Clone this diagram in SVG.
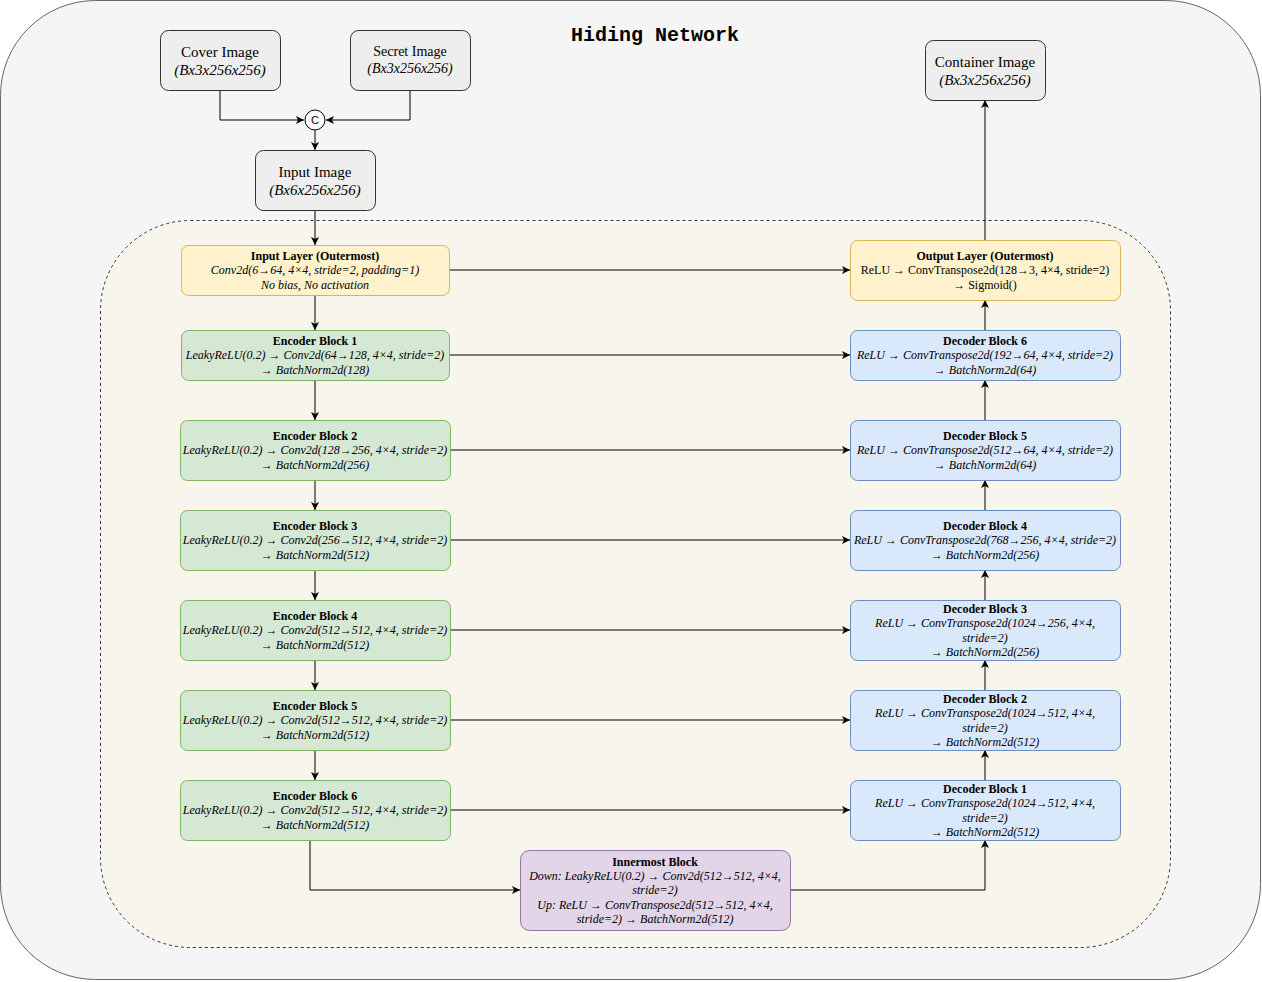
<svg xmlns="http://www.w3.org/2000/svg" width="1262" height="982" viewBox="0 0 1262 982">
<style>
.t{font-family:"Liberation Serif","DejaVu Serif",serif;font-size:12px;fill:#000;text-anchor:middle}
.b{font-weight:bold}
.i{font-style:italic}
.lg{font-size:15px}
.img{fill:#eeeeee;stroke:#333;stroke-width:1}
.yel{fill:#fff2cc;stroke:#d6b656;stroke-width:1}
.grn{fill:#d5e8d4;stroke:#82b366;stroke-width:1}
.blu{fill:#dae8fc;stroke:#6c8ebf;stroke-width:1}
.pur{fill:#e1d5e7;stroke:#9673a6;stroke-width:1}
.c{fill:none;stroke:#000;stroke-width:1;marker-end:url(#ah)}
</style>
<defs>
<marker id="ah" markerWidth="10" markerHeight="10" refX="8" refY="4" orient="auto" markerUnits="userSpaceOnUse">
<path d="M0,0 L8,4 L0,8 L2,4 z" fill="#000"/>
</marker>
</defs>
<rect x="0.5" y="0.5" width="1260" height="979" rx="95" ry="95" fill="#f5f5f5" stroke="#666"/>
<text x="655" y="41" style="font-family:'Liberation Mono','DejaVu Sans Mono',monospace;font-size:20px;font-weight:bold;text-anchor:middle">Hiding Network</text>
<rect x="100.5" y="220.5" width="1070" height="727" rx="90" ry="90" fill="#f8f5ec" stroke="#333" stroke-dasharray="3 3"/>

<g id="connectors">
<polyline class="c" points="220,90 220,120 304,120"/>
<polyline class="c" points="410,90 410,120 326,120"/>
<polyline class="c" points="315,130 315,150"/>
<polyline class="c" points="315,210 315,245"/>
<polyline class="c" points="315,295 315,330"/>
<polyline class="c" points="315,380 315,420"/>
<polyline class="c" points="315,480 315,510"/>
<polyline class="c" points="315,570 315,600"/>
<polyline class="c" points="315,660 315,690"/>
<polyline class="c" points="315,750 315,780"/>
<polyline class="c" points="310,840 310,890 520,890"/>
<polyline class="c" points="790,890 985,890 985,840"/>
<polyline class="c" points="985,780 985,750"/>
<polyline class="c" points="985,690 985,660"/>
<polyline class="c" points="985,600 985,570"/>
<polyline class="c" points="985,510 985,480"/>
<polyline class="c" points="985,420 985,380"/>
<polyline class="c" points="985,330 985,300"/>
<polyline class="c" points="985,240 985,100"/>
<polyline class="c" points="449,270 850,270"/>
<polyline class="c" points="449,355 850,355"/>
<polyline class="c" points="450,450 850,450"/>
<polyline class="c" points="450,540 850,540"/>
<polyline class="c" points="450,630 850,630"/>
<polyline class="c" points="450,720 850,720"/>
<polyline class="c" points="450,810 850,810"/>
</g>

<g id="cover">
<rect class="img" x="160.5" y="30.5" width="120" height="60" rx="8"/>
<text class="t lg" x="220" y="57">Cover Image</text>
<text class="t lg i" x="220" y="75">(Bx3x256x256)</text>
</g>
<g id="secret">
<rect class="img" x="350.5" y="30.5" width="120" height="60" rx="8"/>
<text class="t" x="410" y="56" style="font-size:14px">Secret Image</text>
<text class="t i" x="410" y="73" style="font-size:14px">(Bx3x256x256)</text>
</g>
<g id="concat">
<circle cx="315" cy="120" r="10" fill="#fff" stroke="#000"/>
<text x="315" y="124" style="font-family:'Liberation Sans',Arial,sans-serif;font-size:11px;text-anchor:middle">C</text>
</g>
<g id="input-image">
<rect class="img" x="255.5" y="150.5" width="120" height="60" rx="8"/>
<text class="t lg" x="315" y="177">Input Image</text>
<text class="t lg i" x="315" y="195">(Bx6x256x256)</text>
</g>
<g id="container">
<rect class="img" x="925.5" y="40.5" width="120" height="60" rx="8"/>
<text class="t lg" x="985" y="67">Container Image</text>
<text class="t lg i" x="985" y="85">(Bx3x256x256)</text>
</g>

<g id="input-layer">
<rect class="yel" x="181.5" y="245.5" width="268" height="50" rx="7"/>
<text class="t b" x="315" y="260">Input Layer (Outermost)</text>
<text class="t i" x="315" y="274">Conv2d(6→64, 4×4, stride=2, padding=1)</text>
<text class="t i" x="315" y="289">No bias, No activation</text>
</g>
<g id="enc1">
<rect class="grn" x="181.5" y="330.5" width="268" height="50" rx="7"/>
<text class="t b" x="315" y="345">Encoder Block 1</text>
<text class="t i" x="315" y="359">LeakyReLU(0.2) → Conv2d(64→128, 4×4, stride=2)</text>
<text class="t i" x="315" y="374">→ BatchNorm2d(128)</text>
</g>
<g id="enc2">
<rect class="grn" x="180.5" y="420.5" width="270" height="60" rx="7"/>
<text class="t b" x="315" y="440">Encoder Block 2</text>
<text class="t i" x="315" y="454">LeakyReLU(0.2) → Conv2d(128→256, 4×4, stride=2)</text>
<text class="t i" x="315" y="469">→ BatchNorm2d(256)</text>
</g>
<g id="enc3">
<rect class="grn" x="180.5" y="510.5" width="270" height="60" rx="7"/>
<text class="t b" x="315" y="530">Encoder Block 3</text>
<text class="t i" x="315" y="544">LeakyReLU(0.2) → Conv2d(256→512, 4×4, stride=2)</text>
<text class="t i" x="315" y="559">→ BatchNorm2d(512)</text>
</g>
<g id="enc4">
<rect class="grn" x="180.5" y="600.5" width="270" height="60" rx="7"/>
<text class="t b" x="315" y="620">Encoder Block 4</text>
<text class="t i" x="315" y="634">LeakyReLU(0.2) → Conv2d(512→512, 4×4, stride=2)</text>
<text class="t i" x="315" y="649">→ BatchNorm2d(512)</text>
</g>
<g id="enc5">
<rect class="grn" x="180.5" y="690.5" width="270" height="60" rx="7"/>
<text class="t b" x="315" y="710">Encoder Block 5</text>
<text class="t i" x="315" y="724">LeakyReLU(0.2) → Conv2d(512→512, 4×4, stride=2)</text>
<text class="t i" x="315" y="739">→ BatchNorm2d(512)</text>
</g>
<g id="enc6">
<rect class="grn" x="180.5" y="780.5" width="270" height="60" rx="7"/>
<text class="t b" x="315" y="800">Encoder Block 6</text>
<text class="t i" x="315" y="814">LeakyReLU(0.2) → Conv2d(512→512, 4×4, stride=2)</text>
<text class="t i" x="315" y="829">→ BatchNorm2d(512)</text>
</g>

<g id="output-layer">
<rect class="yel" x="850.5" y="240.5" width="270" height="60" rx="7"/>
<text class="t b" x="985" y="260">Output Layer (Outermost)</text>
<text class="t" x="985" y="274">ReLU → ConvTranspose2d(128→3, 4×4, stride=2)</text>
<text class="t" x="985" y="289">→ Sigmoid()</text>
</g>
<g id="dec6">
<rect class="blu" x="850.5" y="330.5" width="270" height="50" rx="7"/>
<text class="t b" x="985" y="345">Decoder Block 6</text>
<text class="t i" x="985" y="359">ReLU → ConvTranspose2d(192→64, 4×4, stride=2)</text>
<text class="t i" x="985" y="374">→ BatchNorm2d(64)</text>
</g>
<g id="dec5">
<rect class="blu" x="850.5" y="420.5" width="270" height="60" rx="7"/>
<text class="t b" x="985" y="440">Decoder Block 5</text>
<text class="t i" x="985" y="454">ReLU → ConvTranspose2d(512→64, 4×4, stride=2)</text>
<text class="t i" x="985" y="469">→ BatchNorm2d(64)</text>
</g>
<g id="dec4">
<rect class="blu" x="850.5" y="510.5" width="270" height="60" rx="7"/>
<text class="t b" x="985" y="530">Decoder Block 4</text>
<text class="t i" x="985" y="544">ReLU → ConvTranspose2d(768→256, 4×4, stride=2)</text>
<text class="t i" x="985" y="559">→ BatchNorm2d(256)</text>
</g>
<g id="dec3">
<rect class="blu" x="850.5" y="600.5" width="270" height="60" rx="7"/>
<text class="t b" x="985" y="613">Decoder Block 3</text>
<text class="t i" x="985" y="627">ReLU → ConvTranspose2d(1024→256, 4×4,</text>
<text class="t i" x="985" y="642">stride=2)</text>
<text class="t i" x="985" y="656">→ BatchNorm2d(256)</text>
</g>
<g id="dec2">
<rect class="blu" x="850.5" y="690.5" width="270" height="60" rx="7"/>
<text class="t b" x="985" y="703">Decoder Block 2</text>
<text class="t i" x="985" y="717">ReLU → ConvTranspose2d(1024→512, 4×4,</text>
<text class="t i" x="985" y="732">stride=2)</text>
<text class="t i" x="985" y="746">→ BatchNorm2d(512)</text>
</g>
<g id="dec1">
<rect class="blu" x="850.5" y="780.5" width="270" height="60" rx="7"/>
<text class="t b" x="985" y="793">Decoder Block 1</text>
<text class="t i" x="985" y="807">ReLU → ConvTranspose2d(1024→512, 4×4,</text>
<text class="t i" x="985" y="822">stride=2)</text>
<text class="t i" x="985" y="836">→ BatchNorm2d(512)</text>
</g>

<g id="innermost">
<rect class="pur" x="520.5" y="850.5" width="270" height="80" rx="9"/>
<text class="t b" x="655" y="866">Innermost Block</text>
<text class="t i" x="655" y="880">Down: LeakyReLU(0.2) → Conv2d(512→512, 4×4,</text>
<text class="t i" x="655" y="894">stride=2)</text>
<text class="t i" x="655" y="909">Up: ReLU → ConvTranspose2d(512→512, 4×4,</text>
<text class="t i" x="655" y="923">stride=2) → BatchNorm2d(512)</text>
</g>
</svg>
